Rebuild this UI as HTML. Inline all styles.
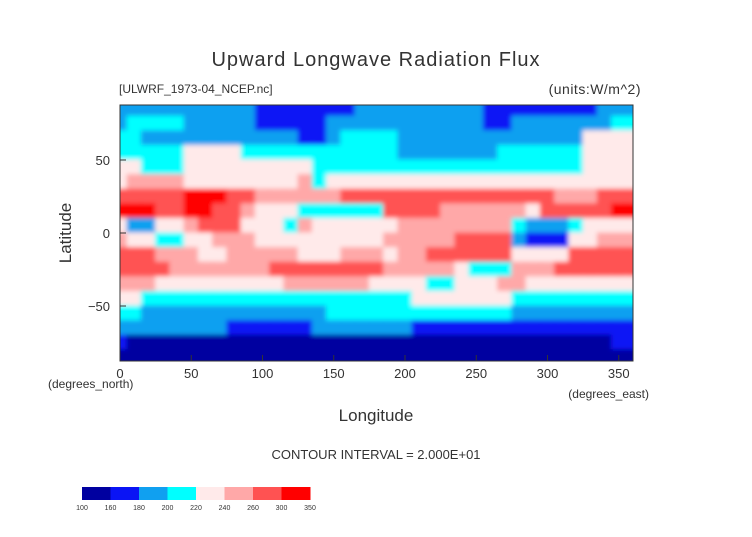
<!DOCTYPE html>
<html><head><meta charset="utf-8"><style>
body{margin:0;background:#fff;width:752px;height:532px;overflow:hidden}
svg text{font-family:"Liberation Sans",sans-serif;fill:#333}
</style></head><body>
<svg id="chart" width="752" height="532" viewBox="0 0 752 532" xmlns="http://www.w3.org/2000/svg">
<defs>
<clipPath id="pc"><rect x="120" y="105" width="513" height="256"/></clipPath>
<filter id="bl" filterUnits="userSpaceOnUse" x="90" y="80" width="580" height="310"><feGaussianBlur stdDeviation="2.5"/></filter>
</defs>
<text x="376" y="66" text-anchor="middle" font-size="20" letter-spacing="1">Upward Longwave Radiation Flux</text>
<text x="119" y="93" font-size="12">[ULWRF_1973-04_NCEP.nc]</text>
<text x="641" y="94" text-anchor="end" font-size="14" letter-spacing="0.5">(units:W/m^2)</text>
<g id="cells" clip-path="url(#pc)"><g id="cellsInner" filter="url(#bl)"></g></g>
<rect x="120" y="105" width="513" height="256" fill="none" stroke="#333" stroke-width="1"/>
<g id="axes"></g>
<text transform="translate(71,233) rotate(-90)" text-anchor="middle" font-size="17">Latitude</text>
<text x="48" y="388" font-size="12">(degrees_north)</text>
<text x="649" y="398" text-anchor="end" font-size="12">(degrees_east)</text>
<text x="376" y="421" text-anchor="middle" font-size="17">Longitude</text>
<text x="376" y="459" text-anchor="middle" font-size="13">CONTOUR INTERVAL = 2.000E+01</text>
<g id="cbar"></g>
</svg>
<script>
const levelBounds=[100,160,180,200,220,240,260,300,350];
const levelColors=["#0000a0","#0a14f5","#10a0f0","#00ffff","#ffeaea","#ffa8a8","#ff5252","#ff0000"];
const latitudes=[85,75,65,55,45,35,25,15,5,-5,-15,-25,-35,-45,-55,-65,-75,-85];
const longitudes=Array.from({length:36},(_,i)=>i*10);
const levelRows=[
"222222222211111112222222221111111122",
"233332222211111222222222221122222223",
"332222222222211233332222222222222444",
"333334444333333333332222222333333444",
"443334444444443333333333333333333444",
"455554444444453444444444444444444444",
"666667776655555566666666666666655566",
"777667766544433333366665555554666667",
"422445666444354444445555555532223444",
"544334455544444444455555666621114455",
"666555445555544455545566666644446666",
"666655555556666666655555433355566666",
"555444444444555555444433444554444444",
"443333333333333333333444444433333333",
"332222222222222333333333333322222222",
"222222221111112222222111111111111111",
"100000000000000000000000000000000001",
"000000000000000000000000000000000000"];
const repValues=[140,170,190,210,230,250,280,320];
const fluxValues=levelRows.map(r=>r.split("").map(d=>repValues[+d]));
const xTicks=[0,50,100,150,200,250,300,350];
const yTicks=[50,0,-50];

const NS="http://www.w3.org/2000/svg";
const xS=lon=>120+lon*(513/360);
const yS=lat=>233-lat*1.46;
function colorFor(v){for(let k=0;k<levelColors.length;k++){if(v<levelBounds[k+1])return levelColors[k];}return levelColors[levelColors.length-1];}
const inner=document.getElementById("cellsInner");
fluxValues.forEach((row,r)=>{row.forEach((v,c)=>{
 const lat=latitudes[r],lon=longitudes[c];
 const x0=xS(lon-5),x1=xS(lon+5),y0=yS(lat+5),y1=yS(lat-5);
 const e=document.createElementNS(NS,"rect");
 e.setAttribute("x",x0-0.5);e.setAttribute("y",y0-0.5);
 e.setAttribute("width",x1-x0+1);e.setAttribute("height",y1-y0+1);
 e.setAttribute("fill",colorFor(v));
 
 
 inner.appendChild(e);
 if(c===0||c===35){const e2=e.cloneNode();e2.setAttribute("x",c===0?x0-14.3:x1-1);
 
 inner.appendChild(e2);}
 if(r===0||r===17){const e3=e.cloneNode();e3.setAttribute("y",r===0?y0-14:y1-1);
 
 inner.appendChild(e3);}
});});
const ax=document.getElementById("axes");
xTicks.forEach(t=>{
 const l=document.createElementNS(NS,"line");
 l.setAttribute("x1",xS(t));l.setAttribute("x2",xS(t));l.setAttribute("y1",361);l.setAttribute("y2",355);l.setAttribute("stroke","#333");
 
 
 ax.appendChild(l);
 const s=document.createElementNS(NS,"text");
 s.setAttribute("x",xS(t));s.setAttribute("y",378);s.setAttribute("text-anchor","middle");s.setAttribute("font-size","13");s.textContent=t;
 
 
 ax.appendChild(s);
});
yTicks.forEach(t=>{
 const l=document.createElementNS(NS,"line");
 l.setAttribute("x1",120);l.setAttribute("x2",126);l.setAttribute("y1",yS(t));l.setAttribute("y2",yS(t));l.setAttribute("stroke","#333");
 
 
 ax.appendChild(l);
 const s=document.createElementNS(NS,"text");
 s.setAttribute("x",110);s.setAttribute("y",yS(t)+5);s.setAttribute("text-anchor","end");s.setAttribute("font-size","13");s.textContent=(t<0?"\u2212"+(-t):t);
 
 
 ax.appendChild(s);
});
const cb=document.getElementById("cbar");
const segW=228/levelColors.length;
levelColors.forEach((col,k)=>{
 const r=document.createElementNS(NS,"rect");
 r.setAttribute("x",82+k*segW);r.setAttribute("y",487);r.setAttribute("width",segW+0.5);r.setAttribute("height",13);r.setAttribute("fill",col);
 
 
 cb.appendChild(r);
});
levelBounds.forEach((b,k)=>{
 const s=document.createElementNS(NS,"text");
 s.setAttribute("x",82+k*segW);s.setAttribute("y",510);s.setAttribute("text-anchor","middle");s.setAttribute("font-size","7");s.textContent=b;
 
 
 cb.appendChild(s);
});
</script>
</body></html>
